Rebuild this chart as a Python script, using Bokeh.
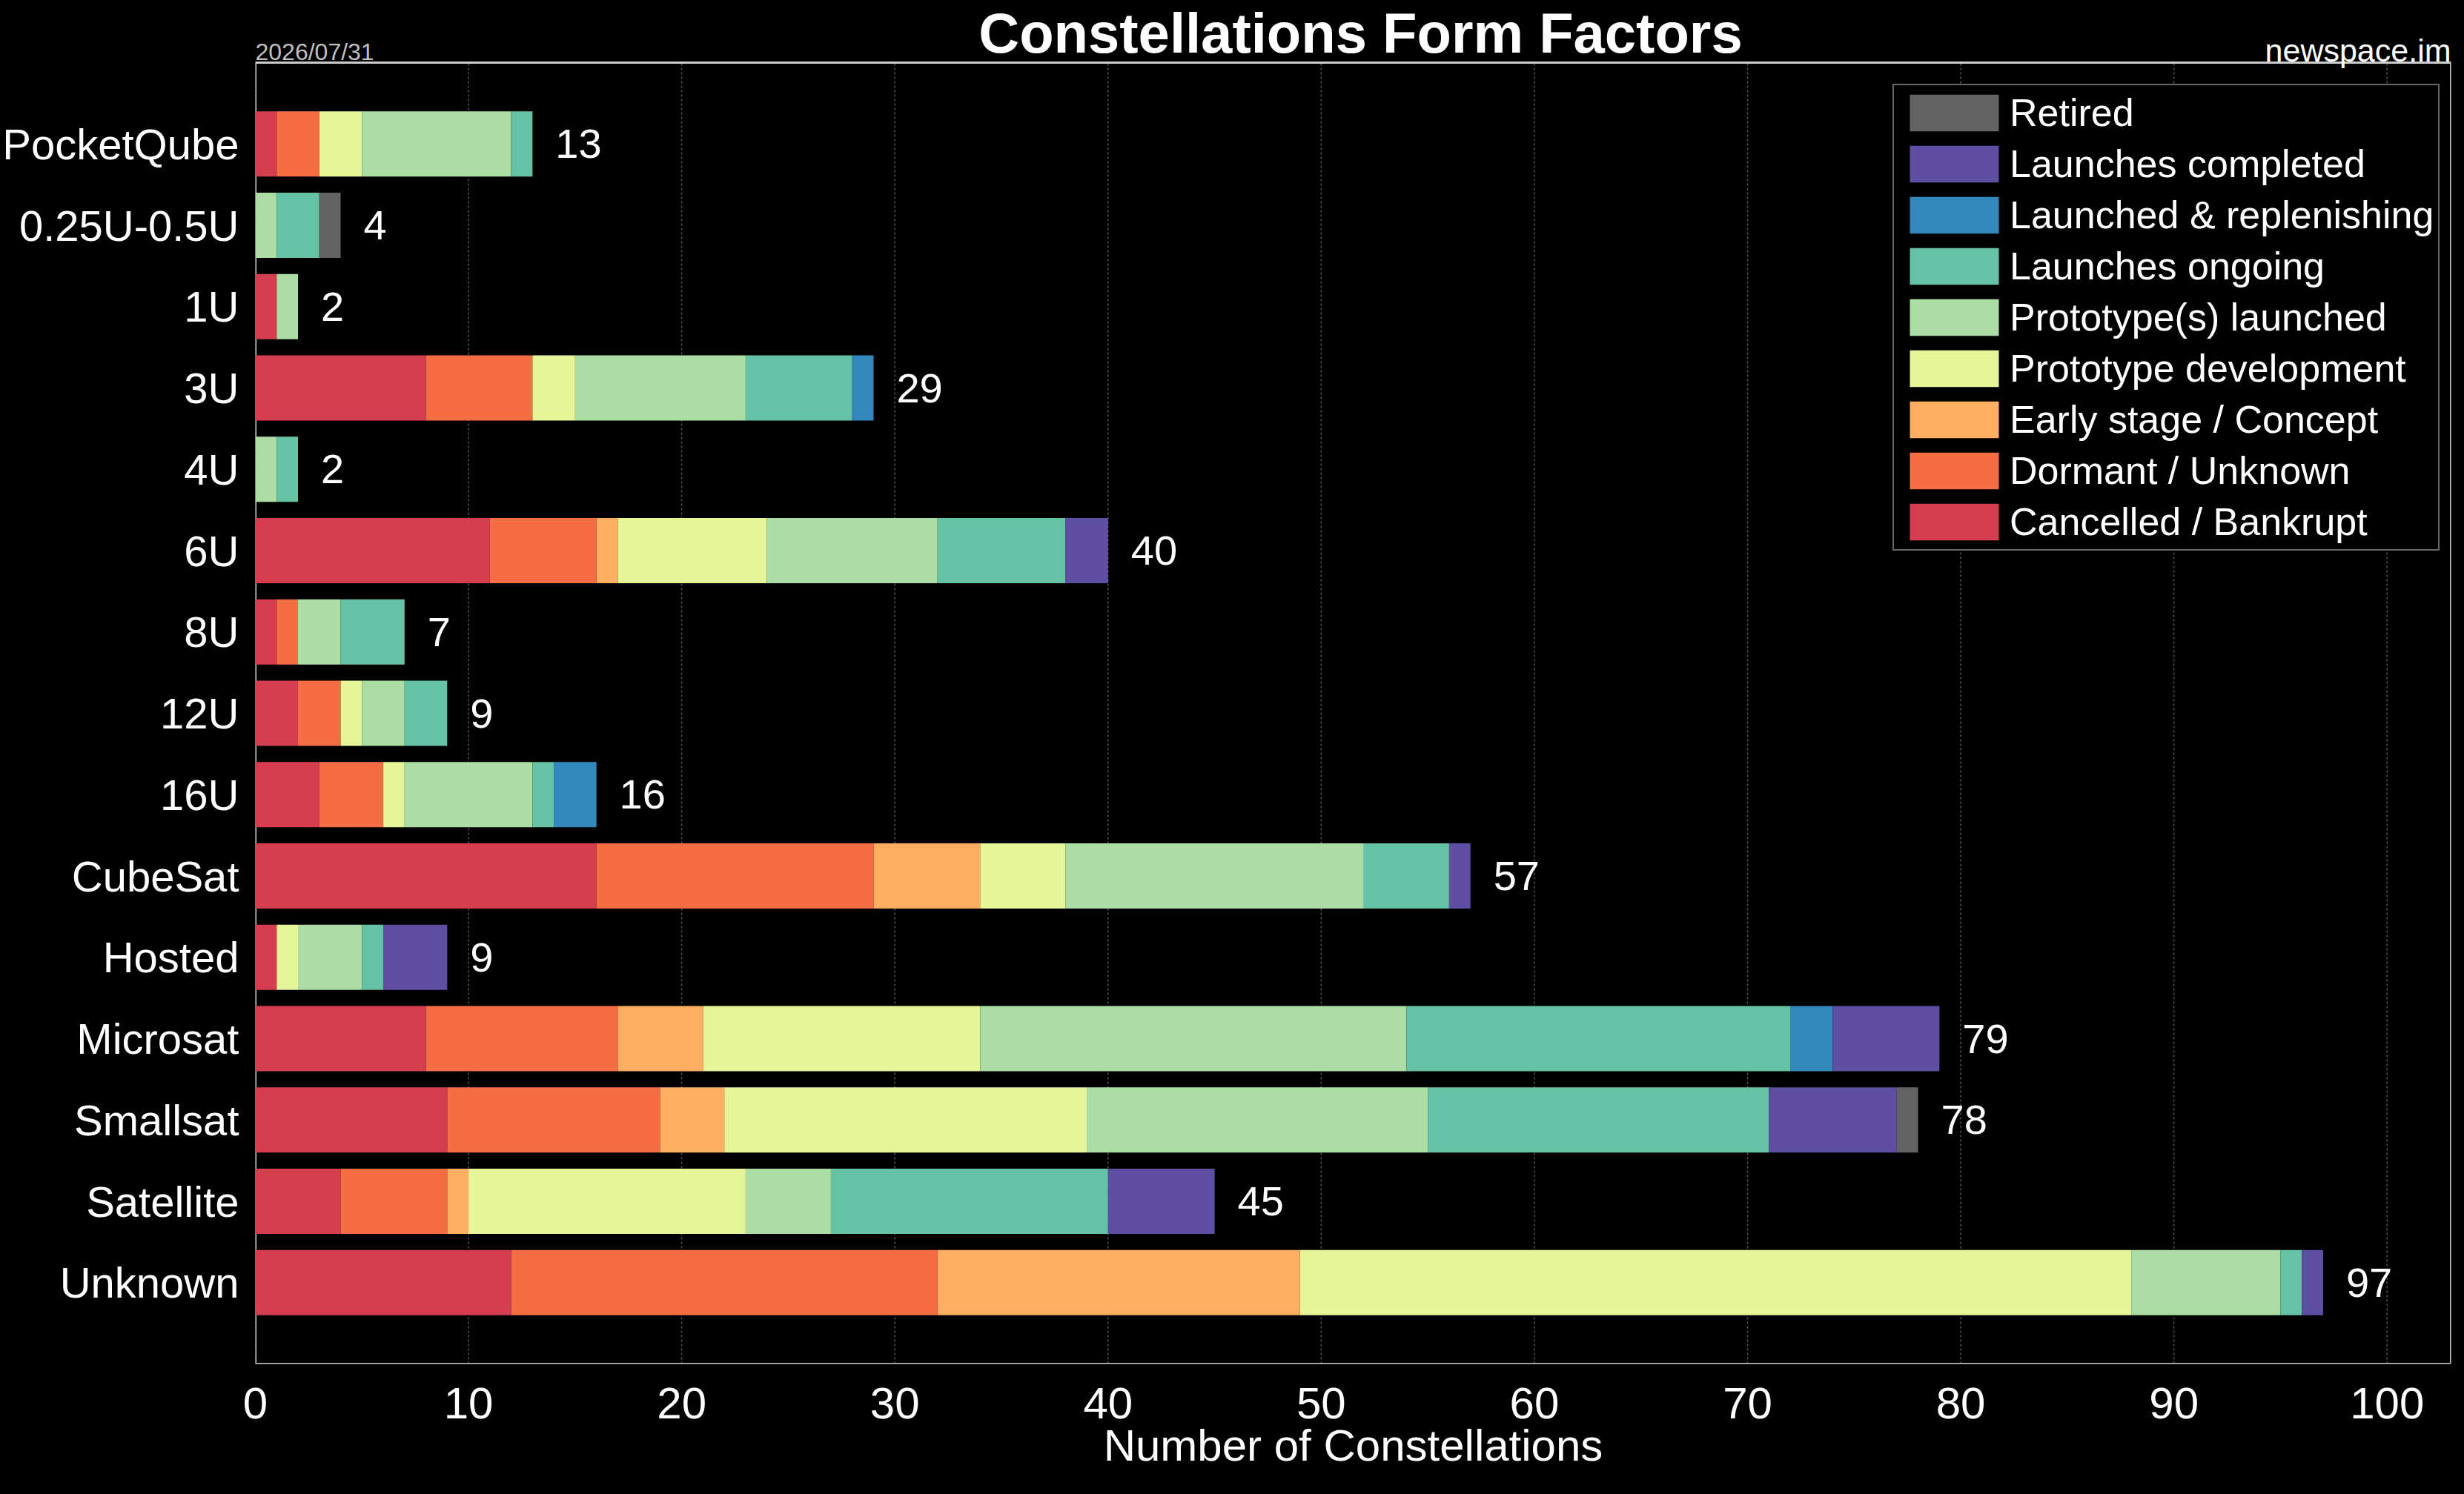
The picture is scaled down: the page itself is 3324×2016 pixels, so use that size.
from bokeh.core.properties import value
from bokeh.embed import file_html
from bokeh.models import (ColumnDataSource, FixedTicker, Legend, LegendItem,
                          Range1d)
from bokeh.plotting import figure
from bokeh.resources import INLINE

# form factors, top to bottom
categories = ["PocketQube", "0.25U-0.5U", "1U", "3U", "4U", "6U", "8U", "12U",
              "16U", "CubeSat", "Hosted", "Microsat", "Smallsat", "Satellite",
              "Unknown"]

cancelled = [1, 0, 1, 8, 0, 11, 1, 2, 3, 16, 1, 8, 9, 4, 12]
dormant = [2, 0, 0, 5, 0, 5, 1, 2, 3, 13, 0, 9, 10, 5, 20]
early = [0, 0, 0, 0, 0, 1, 0, 0, 0, 5, 0, 4, 3, 1, 17]
proto_dev = [2, 0, 0, 2, 0, 7, 0, 1, 1, 4, 1, 13, 17, 13, 39]
proto_launched = [7, 1, 1, 8, 1, 8, 2, 2, 6, 14, 3, 20, 16, 4, 7]
ongoing = [1, 2, 0, 5, 1, 6, 3, 2, 1, 4, 1, 18, 16, 13, 1]
replenishing = [0, 0, 0, 1, 0, 0, 0, 0, 2, 0, 0, 2, 0, 0, 0]
completed = [0, 0, 0, 0, 0, 2, 0, 0, 0, 1, 3, 5, 6, 5, 1]
retired = [0, 1, 0, 0, 0, 0, 0, 0, 0, 0, 0, 0, 1, 0, 0]

statuses = ["Cancelled / Bankrupt", "Dormant / Unknown", "Early stage / Concept",
            "Prototype development", "Prototype(s) launched", "Launches ongoing",
            "Launched & replenishing", "Launches completed", "Retired"]
colors = ["#d53e4f", "#f46d43", "#fdae61", "#e6f598", "#abdda4", "#66c2a5",
          "#3288bd", "#5e4fa2", "#636363"]
x_ticks = [0, 10, 20, 30, 40, 50, 60, 70, 80, 90, 100]

TITLE = "Constellations Form Factors"
DATE = "2026/07/31"
SITE = "newspace.im"
X_LABEL = "Number of Constellations"

FONT = "Liberation Sans"
W, H = 3308, 2000
LEFT, RIGHT, TOP, BOTTOM = 339, 2, 0, 160
X_MAX = 103
N = len(categories)

# the frame runs up to the top of the canvas so that the header texts can sit
# in it; the chart box itself is y in [-1, N] and starts HEAD px lower
HEAD = 84
FH = H - TOP - BOTTOM
ROW = (FH - HEAD) / (N + 1)
Y_TOP = N + HEAD / ROW


def head_y(px):
    # px below the canvas top -> data y
    return Y_TOP - px / ROW


series = [cancelled, dormant, early, proto_dev, proto_launched, ongoing,
          replenishing, completed, retired]
keys = ["s%d" % i for i in range(len(series))]
ys = [N - 1 - i for i in range(N)]
totals = [sum(col) for col in zip(*series)]

data = {"y": ys, "total": totals, "label": [str(t) for t in totals]}
for k, s in zip(keys, series):
    data[k] = s
source = ColumnDataSource(data)

p = figure(width=W, height=H, output_backend="svg", toolbar_location=None,
           x_range=Range1d(0, X_MAX), y_range=Range1d(-1, Y_TOP),
           min_border_left=LEFT, min_border_right=RIGHT,
           min_border_top=TOP, min_border_bottom=BOTTOM)
p.background_fill_color = "black"
p.border_fill_color = "black"
p.outline_line_color = None
p.xgrid.visible = False
p.ygrid.visible = False

# vertical grid lines and chart box
p.segment(x0=x_ticks, y0=-1, x1=x_ticks, y1=N, line_color="#555555",
          line_dash="3 3", line_width=1.5)
p.quad(left=0, right=X_MAX, bottom=-1, top=N, fill_color=None,
       line_color="#cccccc", line_width=3)

bars = p.hbar_stack(keys, y="y", height=0.8, color=colors, line_color=None,
                    source=source)

p.text(x="total", y="y", text="label", source=source, x_offset=31,
       text_font=value(FONT), text_font_size=value("56px"),
       text_baseline="middle", text_align="left", text_color="white")

# header texts
p.text(x=[X_MAX / 2], y=[head_y(44)], text=[TITLE], x_offset=10,
       text_font=value(FONT), text_font_size=value("76px"),
       text_font_style="bold", text_color="white", text_align="center",
       text_baseline="alphabetic")
p.text(x=[0], y=[head_y(69)], text=[DATE], text_font=value(FONT),
       text_font_size=value("32px"), text_color="#bfbfbf", text_align="left",
       text_baseline="alphabetic")
p.text(x=[X_MAX], y=[head_y(67)], text=[SITE], text_font=value(FONT),
       text_font_size=value("43px"), text_color="white", text_align="right",
       text_baseline="alphabetic")

# axes
p.xaxis.ticker = FixedTicker(ticks=x_ticks)
p.yaxis.ticker = FixedTicker(ticks=ys)
p.yaxis.major_label_overrides = {y: c for y, c in zip(ys, categories)}
for ax in (p.xaxis, p.yaxis):
    ax.axis_line_color = None
    ax.major_tick_line_color = None
    ax.minor_tick_line_color = None
    ax.major_tick_out = 0
    ax.major_tick_in = 0
    ax.minor_tick_out = 0
    ax.major_label_text_color = "white"
    ax.major_label_text_font = FONT
    ax.major_label_text_font_size = "60px"
p.xaxis.major_label_standoff = 32
p.yaxis.major_label_standoff = 22
p.yaxis.major_label_text_font_size = "58px"
p.xaxis.axis_label = X_LABEL
p.xaxis.axis_label_standoff = 0
p.xaxis.axis_label_text_font = FONT
p.xaxis.axis_label_text_font_size = "60px"
p.xaxis.axis_label_text_font_style = "normal"
p.xaxis.axis_label_text_color = "white"

# legend, retired first; area swatches are drawn inset by 10 %
items = [LegendItem(label=s, renderers=[r]) for s, r in zip(statuses, bars)]
legend = Legend(items=items[::-1], location=(2209, 1097))
legend.label_text_font = FONT
legend.label_text_font_size = "52px"
legend.label_text_color = "white"
legend.background_fill_color = "black"
legend.background_fill_alpha = 1
legend.border_line_color = "#cccccc"
legend.border_line_width = 2
legend.glyph_width = 150
legend.glyph_height = 62
legend.label_height = 50
legend.label_standoff = 0
legend.spacing = 7
legend.padding = 6
p.add_layout(legend)

page_style = "{% block postamble %}<style>body { background: #000; }</style>{% endblock %}"
open("out.html", "w").write(file_html(p, INLINE, template=page_style))
